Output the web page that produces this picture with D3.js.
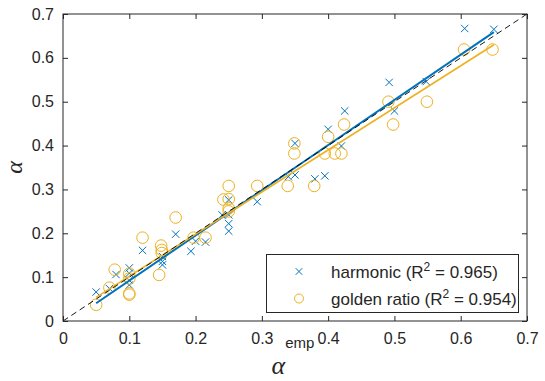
<!DOCTYPE html>
<html>
<head>
<meta charset="utf-8">
<script src="https://cdn.jsdelivr.net/npm/d3@7"></script>
<style>
  body { margin: 0; background: #fff; }
  svg { display: block; }
</style>
</head>
<body>
<div id="chart"></div>
<script>
// empirical alpha vs predicted alpha (harmonic model)
const harmonicX = [0.05, 0.07, 0.08, 0.1, 0.1, 0.1, 0.1, 0.12, 0.15, 0.15, 0.15, 0.17, 0.193, 0.2, 0.215,
  0.25, 0.24, 0.25, 0.25, 0.25, 0.293, 0.34, 0.35, 0.35, 0.38, 0.395, 0.40, 0.42, 0.425, 0.492, 0.5, 0.548, 0.606, 0.65];
const harmonicY = [0.066, 0.074, 0.106, 0.121, 0.109, 0.093, 0.082, 0.161, 0.128, 0.136, 0.147, 0.198, 0.159, 0.182, 0.18,
  0.276, 0.242, 0.242, 0.222, 0.205, 0.272, 0.329, 0.333, 0.405, 0.324, 0.331, 0.437, 0.399, 0.479, 0.544, 0.479, 0.546, 0.667, 0.665];

// golden ratio model
const goldenX = [0.05, 0.07, 0.078, 0.1, 0.1, 0.1, 0.1, 0.12, 0.148, 0.149, 0.149, 0.145, 0.17, 0.197, 0.215,
  0.25, 0.242, 0.25, 0.25, 0.25, 0.293, 0.339, 0.349, 0.349, 0.379, 0.395, 0.4, 0.41, 0.42, 0.424, 0.491, 0.498, 0.549, 0.605, 0.648];
const goldenY = [0.037, 0.076, 0.117, 0.108, 0.097, 0.063, 0.06, 0.19, 0.172, 0.162, 0.155, 0.105, 0.236, 0.19, 0.19,
  0.308, 0.277, 0.278, 0.257, 0.25, 0.308, 0.308, 0.405, 0.382, 0.308, 0.382, 0.42, 0.382, 0.382, 0.448, 0.5, 0.448, 0.5, 0.619, 0.619];

// linear fits: [slope, intercept]
const harmonicFit = [1.03, -0.011];
const goldenFit = [0.96, 0.006];
const fitRange = [0.05, 0.65];

const xTicks = [0, 0.1, 0.2, 0.3, 0.4, 0.5, 0.6, 0.7];
const yTicks = [0, 0.1, 0.2, 0.3, 0.4, 0.5, 0.6, 0.7];
const legendLabels = [["harmonic (R", "2", " = 0.965)"], ["golden ratio (R", "2", " = 0.954)"]];

const width = 545, height = 381;
const margin = {left: 63, right: 18, top: 14, bottom: 60};
const blue = "#0072BD", gold = "#EDB120", axisColor = "#262626";
const font = "'Liberation Sans', Arial, Helvetica, sans-serif";
const serif = "'Liberation Serif', 'Times New Roman', serif";

const svg = d3.select("#chart").append("svg")
  .attr("width", width)
  .attr("height", height);

const x = d3.scaleLinear().domain([0, 0.7]).range([margin.left, width - margin.right]);
const y = d3.scaleLinear().domain([0, 0.7]).range([height - margin.bottom, margin.top]);

const fmt = d => d === 0 ? "0" : d3.format(".1f")(d);
const crossPath = (cx, cy, s) =>
  `M${cx - s},${cy - s}L${cx + s},${cy + s}M${cx - s},${cy + s}L${cx + s},${cy - s}`;

// markers
const plot = svg.append("g");
const cross = 3.7;
plot.append("g")
  .attr("stroke", blue).attr("stroke-width", 1).attr("fill", "none")
  .selectAll("path")
  .data(d3.range(harmonicX.length))
  .join("path")
  .attr("d", i => crossPath(x(harmonicX[i]), y(harmonicY[i]), cross));

plot.append("g")
  .attr("stroke", gold).attr("stroke-width", 1).attr("fill", "none")
  .selectAll("circle")
  .data(d3.range(goldenX.length))
  .join("circle")
  .attr("cx", i => x(goldenX[i]))
  .attr("cy", i => y(goldenY[i]))
  .attr("r", 5.8);

// fit lines
const line = d3.line().x(d => x(d[0])).y(d => y(d[1]));
const fitPoints = f => fitRange.map(v => [v, f[0] * v + f[1]]);

plot.append("path")
  .attr("d", line(fitPoints(harmonicFit)))
  .attr("stroke", blue).attr("stroke-width", 2).attr("fill", "none");
plot.append("path")
  .attr("d", line(fitPoints(goldenFit)))
  .attr("stroke", gold).attr("stroke-width", 1.6).attr("fill", "none");

// identity line
plot.append("path")
  .attr("d", line([[0, 0], [0.7, 0.7]]))
  .attr("stroke", "#000").attr("stroke-width", 0.9)
  .attr("stroke-dasharray", "6,4").attr("fill", "none");

// axes (box with ticks inside on all sides)
const tickLen = 5;
const axisX = d3.axisBottom(x).tickValues(xTicks).tickFormat(fmt).tickSizeInner(-tickLen).tickSizeOuter(0).tickPadding(12);
const axisY = d3.axisLeft(y).tickValues(yTicks).tickFormat(fmt).tickSizeInner(-tickLen).tickSizeOuter(0).tickPadding(9);

const styleAxis = g => {
  g.select(".domain").remove();
  g.selectAll("line").attr("stroke", axisColor);
  g.selectAll("text").attr("fill", axisColor).style("font", `16px ${font}`);
};

svg.append("g")
  .attr("transform", `translate(0,${y(0)})`)
  .call(axisX).call(styleAxis);
svg.append("g")
  .attr("transform", `translate(${x(0)},0)`)
  .call(axisY).call(styleAxis);
svg.append("g")
  .attr("transform", `translate(0,${y(0.7)})`)
  .call(d3.axisTop(x).tickValues(xTicks).tickFormat("").tickSizeInner(-tickLen).tickSizeOuter(0))
  .call(styleAxis);
svg.append("g")
  .attr("transform", `translate(${x(0.7)},0)`)
  .call(d3.axisRight(y).tickValues(yTicks).tickFormat("").tickSizeInner(-tickLen).tickSizeOuter(0))
  .call(styleAxis);

svg.append("rect")
  .attr("x", x(0)).attr("y", y(0.7))
  .attr("width", x(0.7) - x(0)).attr("height", y(0) - y(0.7))
  .attr("fill", "none").attr("stroke", axisColor).attr("stroke-width", 1);

// axis labels
const xl = svg.append("text")
  .attr("x", (x(0) + x(0.7)) / 2 - 2)
  .attr("y", 374)
  .attr("text-anchor", "middle")
  .attr("fill", axisColor);
xl.append("tspan")
  .style("font", `italic 26px ${serif}`)
  .text("α");
xl.append("tspan")
  .attr("dy", -26)
  .style("font", `15px ${font}`)
  .text("emp");

svg.append("text")
  .attr("transform", `translate(22,${(y(0) + y(0.7)) / 2}) rotate(-90)`)
  .attr("text-anchor", "middle")
  .attr("fill", axisColor)
  .style("font", `italic 24px ${serif}`)
  .text("α");

// legend
const lg = svg.append("g");
lg.append("rect")
  .attr("x", 266.5).attr("y", 254.5)
  .attr("width", 252).attr("height", 58)
  .attr("fill", "#fff").attr("stroke", axisColor).attr("stroke-width", 1);

const rows = [271.5, 298.5];
lg.append("path")
  .attr("d", crossPath(299, rows[0], 3.3))
  .attr("stroke", blue).attr("fill", "none");
lg.append("circle")
  .attr("cx", 299).attr("cy", rows[1]).attr("r", 4.5)
  .attr("stroke", gold).attr("fill", "none");

legendLabels.forEach((parts, i) => {
  const t = lg.append("text")
    .attr("x", 331).attr("y", rows[i] + 6)
    .attr("fill", axisColor)
    .style("font", `17px ${font}`);
  t.append("tspan").text(parts[0]);
  t.append("tspan").attr("dy", -7).style("font-size", "12px").text(parts[1]);
  t.append("tspan").attr("dy", 7).text(parts[2]);
});
</script>
</body>
</html>
